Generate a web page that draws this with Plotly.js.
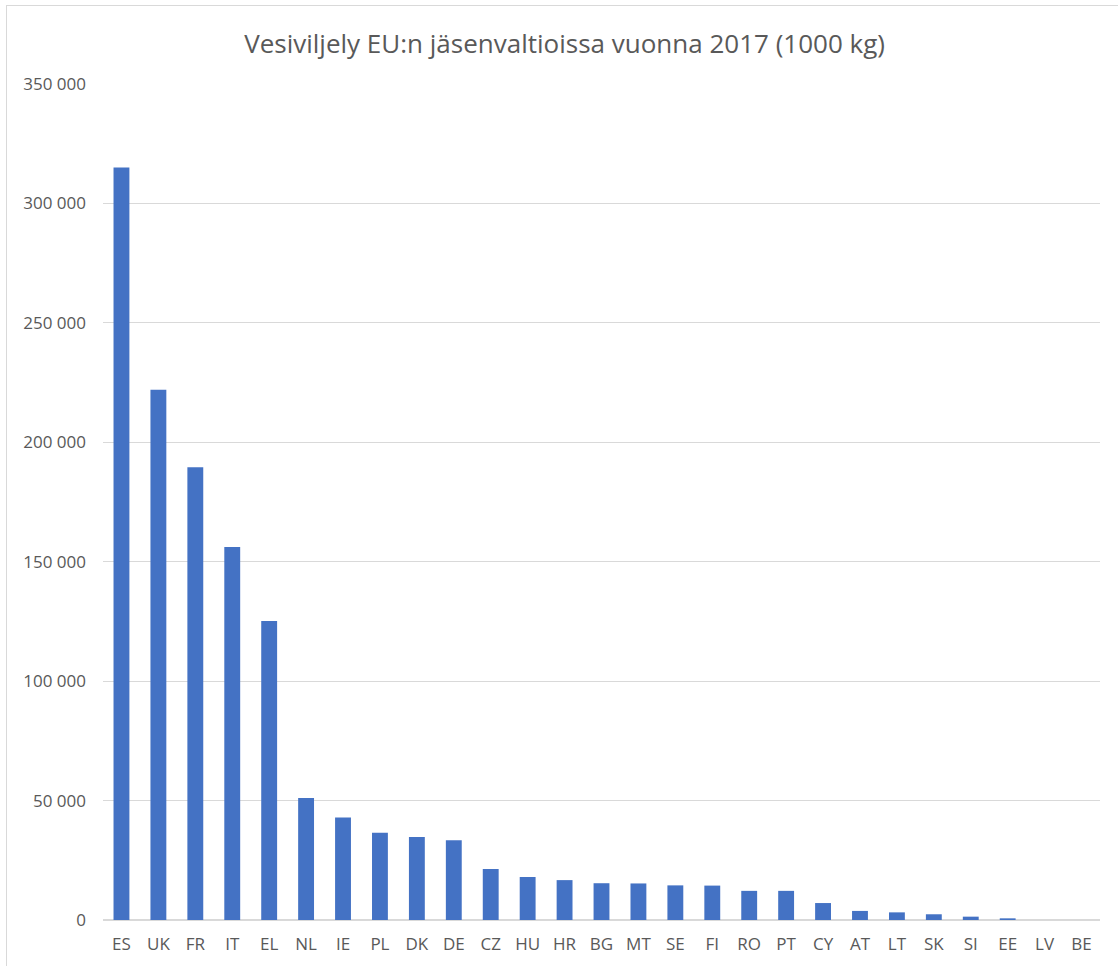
<!DOCTYPE html>
<html>
<head>
<meta charset="utf-8">
<script src="https://cdn.plot.ly/plotly-3.0.1.min.js"></script>
<style>
html,body{margin:0;padding:0;background:#fff;}
#wrap{position:relative;width:1118px;height:966px;}
#chart{width:1118px;height:966px;}
#frame{position:absolute;left:6px;top:5px;right:0px;bottom:0px;border:1px solid #d9d9d9;border-right:none;border-bottom:none;pointer-events:none;}
</style>
</head>
<body>
<div id="wrap"><div id="chart"></div><div id="frame"></div></div>
<script>
const countries = ["ES","UK","FR","IT","EL","NL","IE","PL","DK","DE","CZ","HU","HR","BG","MT","SE","FI","RO","PT","CY","AT","LT","SK","SI","EE","LV","BE"];
const production = [315000,222000,189500,156200,125200,51100,42900,36500,34800,33400,21400,18000,16700,15400,15300,14500,14400,12200,12200,7100,3800,3200,2400,1400,700,0,0];
const titleText = "Vesiviljely EU:n jäsenvaltioissa vuonna 2017 (1000 kg)";
const tickValues = [0,50000,100000,150000,200000,250000,300000,350000];

const trace = {
  type: "bar",
  x: countries,
  y: production,
  marker: {color: "#4472C4"},
  hoverinfo: "x+y"
};

const layout = {
  width: 1118,
  height: 966,
  margin: {l: 103, r: 18, t: 84, b: 46},
  paper_bgcolor: "#ffffff",
  plot_bgcolor: "#ffffff",
  separators: ", ",
  bargap: 0.57,
  showlegend: false,
  font: {family: "Open Sans, Noto Sans, sans-serif", color: "#595959", size: 17},
  title: {
    text: titleText,
    font: {family: "Open Sans, Noto Sans, sans-serif", size: 26, color: "#595959"},
    x: 0.505, xanchor: "center",
    y: 0.955, yanchor: "middle"
  },
  xaxis: {
    type: "category",
    showgrid: false,
    showline: false,
    ticks: "",
    ticklabelstandoff: 12,
    tickfont: {size: 17, color: "#595959"},
    fixedrange: true
  },
  yaxis: {
    range: [0, 350000],
    tickvals: tickValues,
    tickformat: ",d",
    showgrid: true,
    gridcolor: "#d9d9d9",
    gridwidth: 1,
    zeroline: true,
    zerolinecolor: "#d9d9d9",
    zerolinewidth: 1.5,
    showline: false,
    ticks: "",
    ticklabelstandoff: 16,
    tickfont: {size: 17, color: "#595959"},
    fixedrange: true
  }
};

Plotly.newPlot("chart", [trace], layout, {displayModeBar: false, staticPlot: true});
</script>
</body>
</html>
